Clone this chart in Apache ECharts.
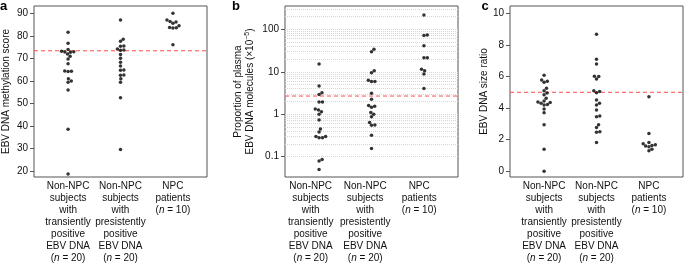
<!DOCTYPE html>
<html><head><meta charset="utf-8">
<script src="https://cdn.jsdelivr.net/npm/echarts@6/dist/echarts.min.js"></script>
<style>html,body{margin:0;padding:0;background:#fff}#chart{width:685px;height:264px}</style>
</head><body><div id="chart"></div>
<script>
// ---- data ----
const categories = [
  'Non-NPC\nsubjects\nwith\ntransiently\npositive\nEBV DNA',
  'Non-NPC\nsubjects\nwith\npresistently\npositive\nEBV DNA',
  'NPC\npatients'
];
const groupSizes = [20, 20, 10];

const methylTransient = [81.6, 76.7, 74.0, 73.2, 73.0, 72.9, 72.8, 72.0, 71.0, 69.8, 67.6, 64.4, 64.3, 64.2, 61.0, 60.0, 59.5, 56.0, 38.6, 18.8];
const methylPersistent = [87.0, 78.5, 77.6, 75.5, 75.4, 74.2, 73.7, 73.6, 71.8, 70.1, 68.3, 66.6, 64.9, 64.8, 62.7, 62.6, 61.0, 59.5, 52.6, 29.6];
const methylNPC = [90.0, 87.0, 86.4, 86.2, 85.6, 84.5, 83.7, 83.6, 83.5, 76.1];
const methylCutoff = 73.4;
const methylTicks = [20, 30, 40, 50, 60, 70, 80, 90];

// proportion of plasma EBV DNA molecules (x10^-5), plotted on a log10 scale
const propTransient = [15.2, 4.6, 3.2, 2.9, 1.95, 1.93, 1.32, 1.25, 1.14, 1.0, 0.73, 0.45, 0.38, 0.30, 0.30, 0.28, 0.28, 0.086, 0.079, 0.05];
const propPersistent = [33.7, 29.7, 10.6, 9.5, 6.3, 5.9, 5.9, 3.1, 2.25, 1.6, 1.55, 1.45, 1.1, 1.0, 0.87, 0.64, 0.56, 0.55, 0.32, 0.156];
const propNPC = [218, 73.5, 71, 41.2, 21.5, 21.3, 11.4, 10.6, 8.85, 4.06];
const propCutoff = 2.68;
const propTicks = [0.1, 1, 10, 100];

const sizeTransient = [6.08, 5.78, 5.7, 5.63, 5.25, 5.1, 4.95, 4.85, 4.62, 4.45, 4.38, 4.35, 4.3, 4.22, 4.2, 3.94, 3.71, 2.95, 1.4, 0.0];
const sizePersistent = [8.67, 7.09, 6.79, 6.01, 6.0, 5.84, 5.1, 5.05, 4.97, 4.51, 4.3, 4.2, 3.88, 3.5, 3.45, 2.95, 2.78, 2.5, 2.47, 1.83];
const sizeNPC = [4.72, 2.40, 1.83, 1.75, 1.68, 1.64, 1.60, 1.55, 1.40, 1.30];
const sizeCutoff = 5.0;
const sizeTicks = [0, 2, 4, 6, 8, 10];

// ---- layout ----
const FONT = '"Liberation Sans", Arial, Helvetica, sans-serif';
const xMin = 0.35, xMax = 3.65;
const panels = [
  { letter: 'a', letterX: 0, grid: { left: 33, top: 6, width: 174, height: 171 }, log: false, min: 17.45, max: 93.25,
    groups: [methylTransient, methylPersistent, methylNPC], cutoff: methylCutoff, ticks: methylTicks,
    name: 'EBV DNA methylation score', nameGap: 23, labelPos: [1, 2, 3] },
  { letter: 'b', letterX: 232, grid: { left: 285, top: 6, width: 173, height: 171 }, log: true, min: 0.0332, max: 354,
    groups: [propTransient, propPersistent, propNPC], cutoff: propCutoff, ticks: propTicks,
    title: '{n|Proportion of plasma}\n{n|EBV DNA molecules (×10}{s|−5}{n|)}', titleX: 244, labelPos: [0.84, 1.88, 2.91] },
  { letter: 'c', letterX: 481.5, grid: { left: 510, top: 6, width: 173, height: 171 }, log: false, min: -0.36, max: 10.46,
    groups: [sizeTransient, sizePersistent, sizeNPC], cutoff: sizeCutoff, ticks: sizeTicks,
    name: 'EBV DNA size ratio', nameGap: 20, labelPos: [1, 2, 3] }
];

// beeswarm offsets (px) computed from the values and the axis scale
function swarm(values, toPx, d) {
  const order = values.map((v, i) => i).sort((a, b) => values[a] - values[b]);
  const placed = [];
  const off = new Array(values.length);
  for (const i of order) {
    const y = toPx(values[i]);
    const near = placed.filter(p => Math.abs(p.y - y) < d);
    const cands = [0];
    near.forEach(p => { const dx = Math.sqrt(d * d - (p.y - y) * (p.y - y)); cands.push(p.x + dx, p.x - dx); });
    cands.sort((a, b) => Math.abs(a) - Math.abs(b));
    const x = cands.find(c => near.every(p => (p.x - c) * (p.x - c) + (p.y - y) * (p.y - y) >= d * d - 1e-6));
    placed.push({ x, y });
    off[i] = x;
  }
  return off;
}

const labelTexts = categories.map((c, i) => c + '\n({i|n} = ' + groupSizes[i] + ')');
const titleRich = {
  n: { fontSize: 10, lineHeight: 12.5, fill: '#111', color: '#111', fontFamily: FONT },
  s: { fontSize: 7, lineHeight: 6, verticalAlign: 'top', fill: '#111', color: '#111', fontFamily: FONT }
};

const grids = [], xAxes = [], yAxes = [], series = [], graphics = [];
panels.forEach((p, k) => {
  // value transform of the y scale (log10 for panel b)
  const tf = p.log ? (v => Math.log10(v)) : (v => v);
  const fmt = p.log ? (v => String(+Math.pow(10, v).toPrecision(6))) : (v => String(+Number(v).toPrecision(6)));
  grids.push(Object.assign({ show: true, borderColor: '#555', borderWidth: 1, backgroundColor: 'transparent' }, p.grid));
  xAxes.push({
    type: 'value', gridIndex: k, min: xMin, max: xMax,
    axisLine: { show: false }, axisTick: { show: false }, splitLine: { show: false },
    axisLabel: {
      customValues: p.labelPos, margin: 3, fontSize: 10, lineHeight: 12, color: '#111', fontFamily: FONT,
      formatter: v => labelTexts[Math.round(v) - 1],
      rich: { i: { fontStyle: 'italic', fontSize: 10, lineHeight: 12, color: '#111', fontFamily: FONT } }
    }
  });
  const tickVals = p.ticks.map(tf);
  const yAxis = {
    type: 'value', gridIndex: k, min: tf(p.min), max: tf(p.max),
    axisLine: { show: false },
    axisTick: { show: true, length: 4, customValues: tickVals, lineStyle: { color: '#555' } },
    splitLine: { show: false },
    axisLabel: { customValues: tickVals, showMinLabel: true, showMaxLabel: true,
      margin: 6, fontSize: 10, color: '#111', fontFamily: FONT, formatter: fmt }
  };
  if (p.name) {
    Object.assign(yAxis, { name: p.name, nameLocation: 'middle', nameRotate: 90, nameGap: p.nameGap,
      nameTextStyle: { fontSize: 10, color: '#111', fontFamily: FONT } });
  }
  yAxes.push(yAxis);

  const g = p.grid;
  const lmin = tf(p.min), lmax = tf(p.max);
  const toPx = v => (tf(v) - lmin) / (lmax - lmin) * g.height;
  const pxPerX = g.width / (xMax - xMin);
  const data = [];
  p.groups.forEach((vals, gi) => {
    const off = swarm(vals, toPx, 3.4);
    vals.forEach((v, i) => data.push([gi + 1 + off[i] / pxPerX, tf(v)]));
  });
  if (p.log) {
    const gridVals = [];
    for (let e = -1; e <= 2; e++) for (let m = 1; m <= 9; m++) {
      const v = m * Math.pow(10, e);
      if (v > p.min && v < p.max) gridVals.push(tf(v));
    }
    series.push({
      type: 'line', xAxisIndex: k, yAxisIndex: k, data: [], silent: true, z: 1,
      markLine: { silent: true, z: 1, symbol: 'none', animation: false, label: { show: false },
        lineStyle: { color: '#d6d6d6', type: 'dotted', width: 1 },
        emphasis: { disabled: true },
        data: gridVals.map(v => ({ yAxis: v })) }
    });
  }
  // cutoff line drawn from two data points spanning the x range
  series.push({
    type: 'line', xAxisIndex: k, yAxisIndex: k, silent: true, z: 2, symbol: 'none',
    data: [[xMin, tf(p.cutoff)], [xMax, tf(p.cutoff)]],
    lineStyle: { color: '#ff4d4d', type: [4, 3], width: 1 },
    itemStyle: { color: '#ff4d4d' },
    emphasis: { disabled: true }
  });
  series.push({
    type: 'scatter', xAxisIndex: k, yAxisIndex: k, data, symbolSize: 3.5, z: 3,
    itemStyle: { color: '#000' }
  });
  graphics.push({ type: 'text', left: p.letterX, top: 0,
    style: { text: p.letter, font: 'bold 13px ' + FONT, fill: '#000' } });
  if (p.title) {
    graphics.push({ type: 'text', x: p.titleX, y: g.top + g.height / 2, rotation: Math.PI / 2,
      style: { text: p.title, rich: titleRich, align: 'center', verticalAlign: 'middle',
        fontSize: 10, fontFamily: FONT, fill: '#111' } });
  }
});

const chart = echarts.init(document.getElementById('chart'), null, { renderer: 'canvas' });
chart.setOption({
  animation: false,
  textStyle: { fontFamily: FONT },
  grid: grids, xAxis: xAxes, yAxis: yAxes, series, graphic: graphics
});
</script></body></html>
